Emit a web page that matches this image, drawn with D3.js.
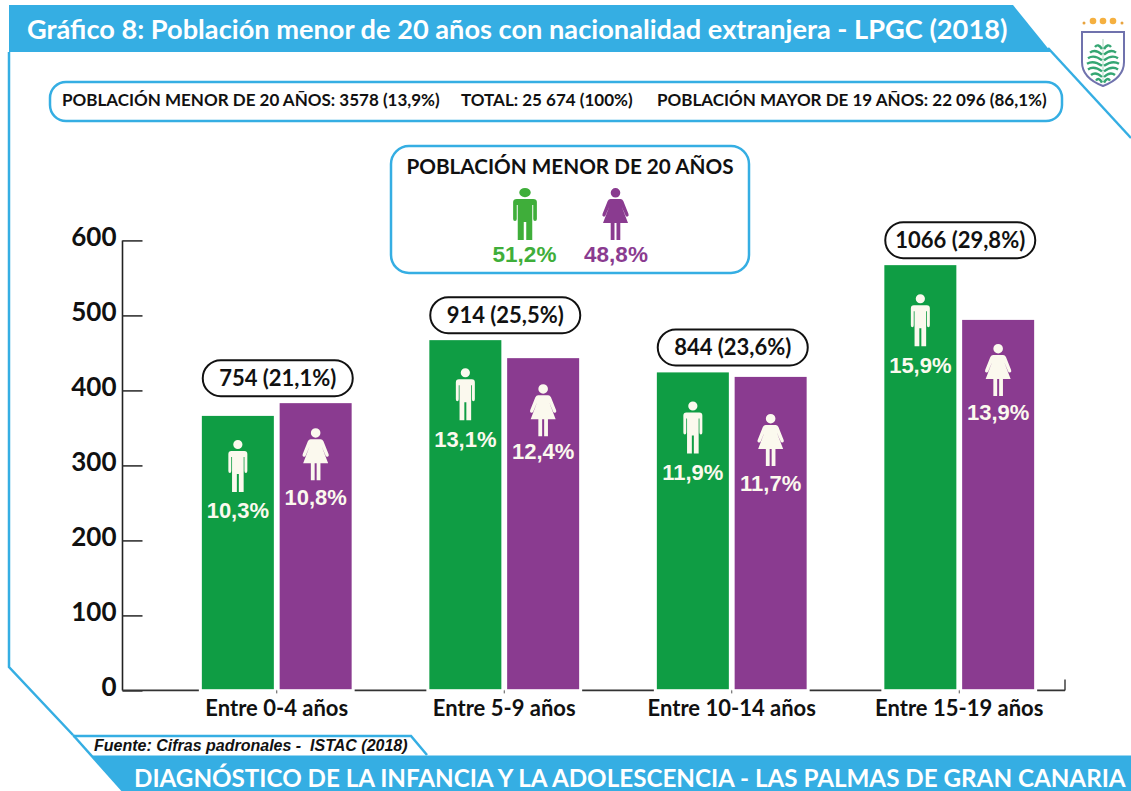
<!DOCTYPE html>
<html><head><meta charset="utf-8">
<script src="https://cdn.jsdelivr.net/npm/d3@7/dist/d3.min.js"></script>
<style>html,body{margin:0;padding:0;background:#fff}svg{display:block}
text{font-family:Lato,"Open Sans",sans-serif;font-weight:700}
.ar{font-family:"Liberation Sans",Arial,sans-serif}</style></head><body>
<svg id="c" width="1131" height="791"></svg>
<script>
const categories=["Entre 0-4 años","Entre 5-9 años","Entre 10-14 años","Entre 15-19 años"];
const maleValues=[366,467,424,567];
const femaleValues=[383,443,418,494];
const malePct=["10,3%","13,1%","11,9%","15,9%"];
const femalePct=["10,8%","12,4%","11,7%","13,9%"];
const totalLabels=["754 (21,1%)","914 (25,5%)","844 (23,6%)","1066 (29,8%)"];
const yTicks=[0,100,200,300,400,500,600];
const titleText="Gráfico 8: Población menor de 20 años con nacionalidad extranjera - LPGC (2018)";
const footerText="DIAGNÓSTICO DE LA INFANCIA Y LA ADOLESCENCIA - LAS PALMAS DE GRAN CANARIA";
const sourceText="Fuente: Cifras padronales -  ISTAC (2018)";
const summaryTexts=["POBLACIÓN MENOR DE 20 AÑOS: 3578 (13,9%)","TOTAL: 25 674 (100%)","POBLACIÓN MAYOR DE 19 AÑOS: 22 096 (86,1%)"];
const legendTitle="POBLACIÓN MENOR DE 20 AÑOS";
const legendPct=["51,2%","48,8%"];
// layout offsets of the pictograms below each bar top
const maleIconDrop=[24,28,29,29], maleLabelDrop=[102,107,108,108];
const femaleIconDrop=[25,26,37,24], femaleLabelDrop=[102,101,114,100];

const BLUE="#35aee3",GREEN="#0f9d44",PURPLE="#8a3b90";
const svg=d3.select("#c");
const x=d3.scaleBand().domain(categories).range([163,1073]);
const y=d3.scaleLinear().domain([0,600]).range([690.4,240.4]);
const barW=72,pairOffset=38.9;

// frame
svg.append("path").attr("d","M9,52V667L73,735").attr("fill","none").attr("stroke",BLUE).attr("stroke-width",2.5);
svg.append("path").attr("d","M1048,48L1131,138").attr("fill","none").attr("stroke",BLUE).attr("stroke-width",2.5);
svg.append("path").attr("d","M9,5H1013L1051,52H9Z").attr("fill",BLUE);
svg.append("text").attr("x",27).attr("y",39).attr("font-size",27.2).attr("fill","#fff").text(titleText);
// footer
svg.append("path").attr("d","M92,755.5H1131V791H123Z").attr("fill",BLUE);
svg.append("path").attr("d","M73,736H411L427,755").attr("fill","none").attr("stroke",BLUE).attr("stroke-width",2.5);
svg.append("path").attr("d","M73,735L123,791").attr("fill","none").attr("stroke",BLUE).attr("stroke-width",2.5);
svg.append("text").attr("class","ar").attr("x",94).attr("y",751).attr("font-size",16).attr("font-style","italic").attr("fill","#111").style("white-space","pre").text(sourceText);
svg.append("text").attr("x",134).attr("y",787).attr("font-size",24.2).attr("fill","#fff").text(footerText);

// summary pill
svg.append("rect").attr("x",50).attr("y",82).attr("width",1012).attr("height",39).attr("rx",16).attr("fill","#fff").attr("stroke",BLUE).attr("stroke-width",2.5);
svg.selectAll(".sum").data(summaryTexts).join("text").attr("class","sum")
  .attr("x",(d,i)=>[62,461,657][i]).attr("y",106).attr("font-size",17).attr("fill","#111").text(d=>d);

// pictograms (drawn from top centre, 52 px tall)
const manPath="M-4.6,4.6a4.6,4.6 0 1,0 9.2,0a4.6,4.6 0 1,0 -9.2,0Z M-6.5,11H6.5Q9.5,11 9.5,14V31Q9.5,33 8,33Q6.6,33 6.6,31V17H5.8V52H1V34H-1V52H-5.8V17H-6.6V31Q-6.6,33 -8,33Q-9.5,33 -9.5,31V14Q-9.5,11 -6.5,11Z";
const womanPath="M-4.8,4.8a4.8,4.8 0 1,0 9.6,0a4.8,4.8 0 1,0 -9.6,0Z M-5,11H5Q6.8,11 7.8,13L13,26Q13.6,28 12,28.5Q10.7,29 10,27.5L6,18L12.5,35H4.8V52H1V35H-1V52H-4.8V35H-12.5L-6,18L-10,27.5Q-10.7,29 -12,28.5Q-13.6,28 -13,26L-7.8,13Q-6.8,11 -5,11Z";

// axes
const yAxis=d3.axisLeft(y).tickValues(yTicks).tickSize(-20).tickPadding(6);
const gy=svg.append("g").attr("transform","translate(122.5,0)").call(yAxis);
gy.selectAll("path.domain").attr("stroke","#222").attr("stroke-width",1.6).attr("d",`M0,${y(600)}V${y(0)}`);
gy.selectAll(".tick line").attr("stroke","#333").attr("stroke-width",1.6);
gy.selectAll(".tick text").attr("font-size",26).attr("fill","#111").attr("dy","0.2em").attr("font-family","Lato,sans-serif").attr("font-weight",700);
svg.append("line").attr("x1",122.5).attr("x2",1065).attr("y1",y(0)).attr("y2",y(0)).attr("stroke","#333").attr("stroke-width",1.6);
svg.append("line").attr("x1",1065).attr("x2",1065).attr("y1",y(0)).attr("y2",y(0)-11).attr("stroke","#333").attr("stroke-width",1.4);

// bars
function series(vals,pct,cls,color,dx,icon,iconDrop,labelDrop){
  const g=svg.append("g");
  const cx=i=>x(categories[i])+x.bandwidth()/2+dx;
  g.selectAll("rect.w").data(vals).join("rect").attr("class","w")
    .attr("x",(d,i)=>cx(i)-barW/2-3).attr("width",barW+6)
    .attr("y",y(0)-3).attr("height",6).attr("fill","#fff");
  g.selectAll("rect."+cls).data(vals).join("rect").attr("class",cls)
    .attr("x",(d,i)=>cx(i)-barW/2).attr("width",barW)
    .attr("y",d=>y(d)).attr("height",d=>y(0)-y(d)-1.2)
    .attr("fill",color);
  g.selectAll("path").data(vals).join("path").attr("d",icon).attr("fill","#fbf9ee")
    .attr("transform",(d,i)=>`translate(${cx(i)},${y(d)+iconDrop[i]})`);
  g.selectAll("text").data(vals).join("text").attr("class","ar").attr("text-anchor","middle")
    .attr("x",(d,i)=>cx(i)).attr("y",(d,i)=>y(d)+labelDrop[i]).attr("font-size",22).attr("fill","#fbf9ee").text((d,i)=>pct[i]);
}
series(maleValues,malePct,"m",GREEN,-pairOffset,manPath,maleIconDrop,maleLabelDrop);
series(femaleValues,femalePct,"f",PURPLE,pairOffset,womanPath,femaleIconDrop,femaleLabelDrop);

const xAxis=d3.axisBottom(x).tickSize(3).tickPadding(7);
const gx=svg.append("g").attr("transform",`translate(0,${y(0)})`).call(xAxis);
gx.select("path.domain").remove();
gx.selectAll(".tick line").attr("stroke","#555");
gx.selectAll(".tick text").attr("font-size",22).attr("fill","#111").attr("font-family","Lato,sans-serif").attr("font-weight",700);

// total pills
categories.forEach((c,i)=>{
  const cy=y(Math.max(maleValues[i],femaleValues[i]))-25, cx=x(c)+x.bandwidth()/2+1;
  svg.append("rect").attr("x",cx-75).attr("y",cy-18).attr("width",150).attr("height",36).attr("rx",18)
    .attr("fill","#fff").attr("stroke","#111").attr("stroke-width",2);
  svg.append("text").attr("x",cx).attr("y",cy+7.5).attr("text-anchor","middle").attr("font-size",22).attr("fill","#111").text(totalLabels[i]);
});

// legend
svg.append("rect").attr("x",391).attr("y",146).attr("width",358).attr("height",127).attr("rx",18).attr("fill","#fff").attr("stroke",BLUE).attr("stroke-width",2.5);
svg.append("text").attr("x",570).attr("y",174).attr("text-anchor","middle").attr("font-size",20.7).attr("fill","#111").text(legendTitle);
svg.append("path").attr("d",manPath).attr("fill","#3fae3a").attr("transform","translate(525,188) scale(1.25,1)");
svg.append("path").attr("d",womanPath).attr("fill",PURPLE).attr("transform","translate(615.5,188)");
svg.selectAll(".lp").data(legendPct).join("text").attr("class","lp ar").attr("text-anchor","middle")
  .attr("x",(d,i)=>[524.5,616][i]).attr("y",262).attr("font-size",22.5).attr("fill",(d,i)=>i?PURPLE:"#3fae3a").text(d=>d);

// crest
const defs=svg.append("defs");
defs.append("filter").attr("id","soft").append("feGaussianBlur").attr("stdDeviation",0.6);
const crest=svg.append("g").attr("filter","url(#soft)");
crest.append("path").attr("d","M1082,32H1124V62Q1124,78 1103,86Q1082,78 1082,62Z").attr("fill","#fff").attr("stroke","#6f72ad").attr("stroke-width",2);
[1093,1103,1113].forEach(cx=>crest.append("circle").attr("cx",cx).attr("cy",21).attr("r",3.3).attr("fill","#f5b041"));
[1084,1122].forEach(cx=>crest.append("circle").attr("cx",cx).attr("cy",23).attr("r",1.5).attr("fill","#e8a33d"));
crest.append("line").attr("x1",1103).attr("x2",1103).attr("y1",39).attr("y2",82).attr("stroke","#c9e5d5").attr("stroke-width",1.5);
d3.range(7).forEach(k=>{
  const sy=42+k*5.6, w=[8,13,15,16,15,12,7][k];
  [-1,1].forEach(s=>crest.append("path").attr("d",`M${1103+s},${sy+7}Q${1103+s*w*0.6},${sy+1} ${1103+s*w},${sy+5}`)
    .attr("fill","none").attr("stroke","#35a673").attr("stroke-width",2.4));
});
</script></body></html>
